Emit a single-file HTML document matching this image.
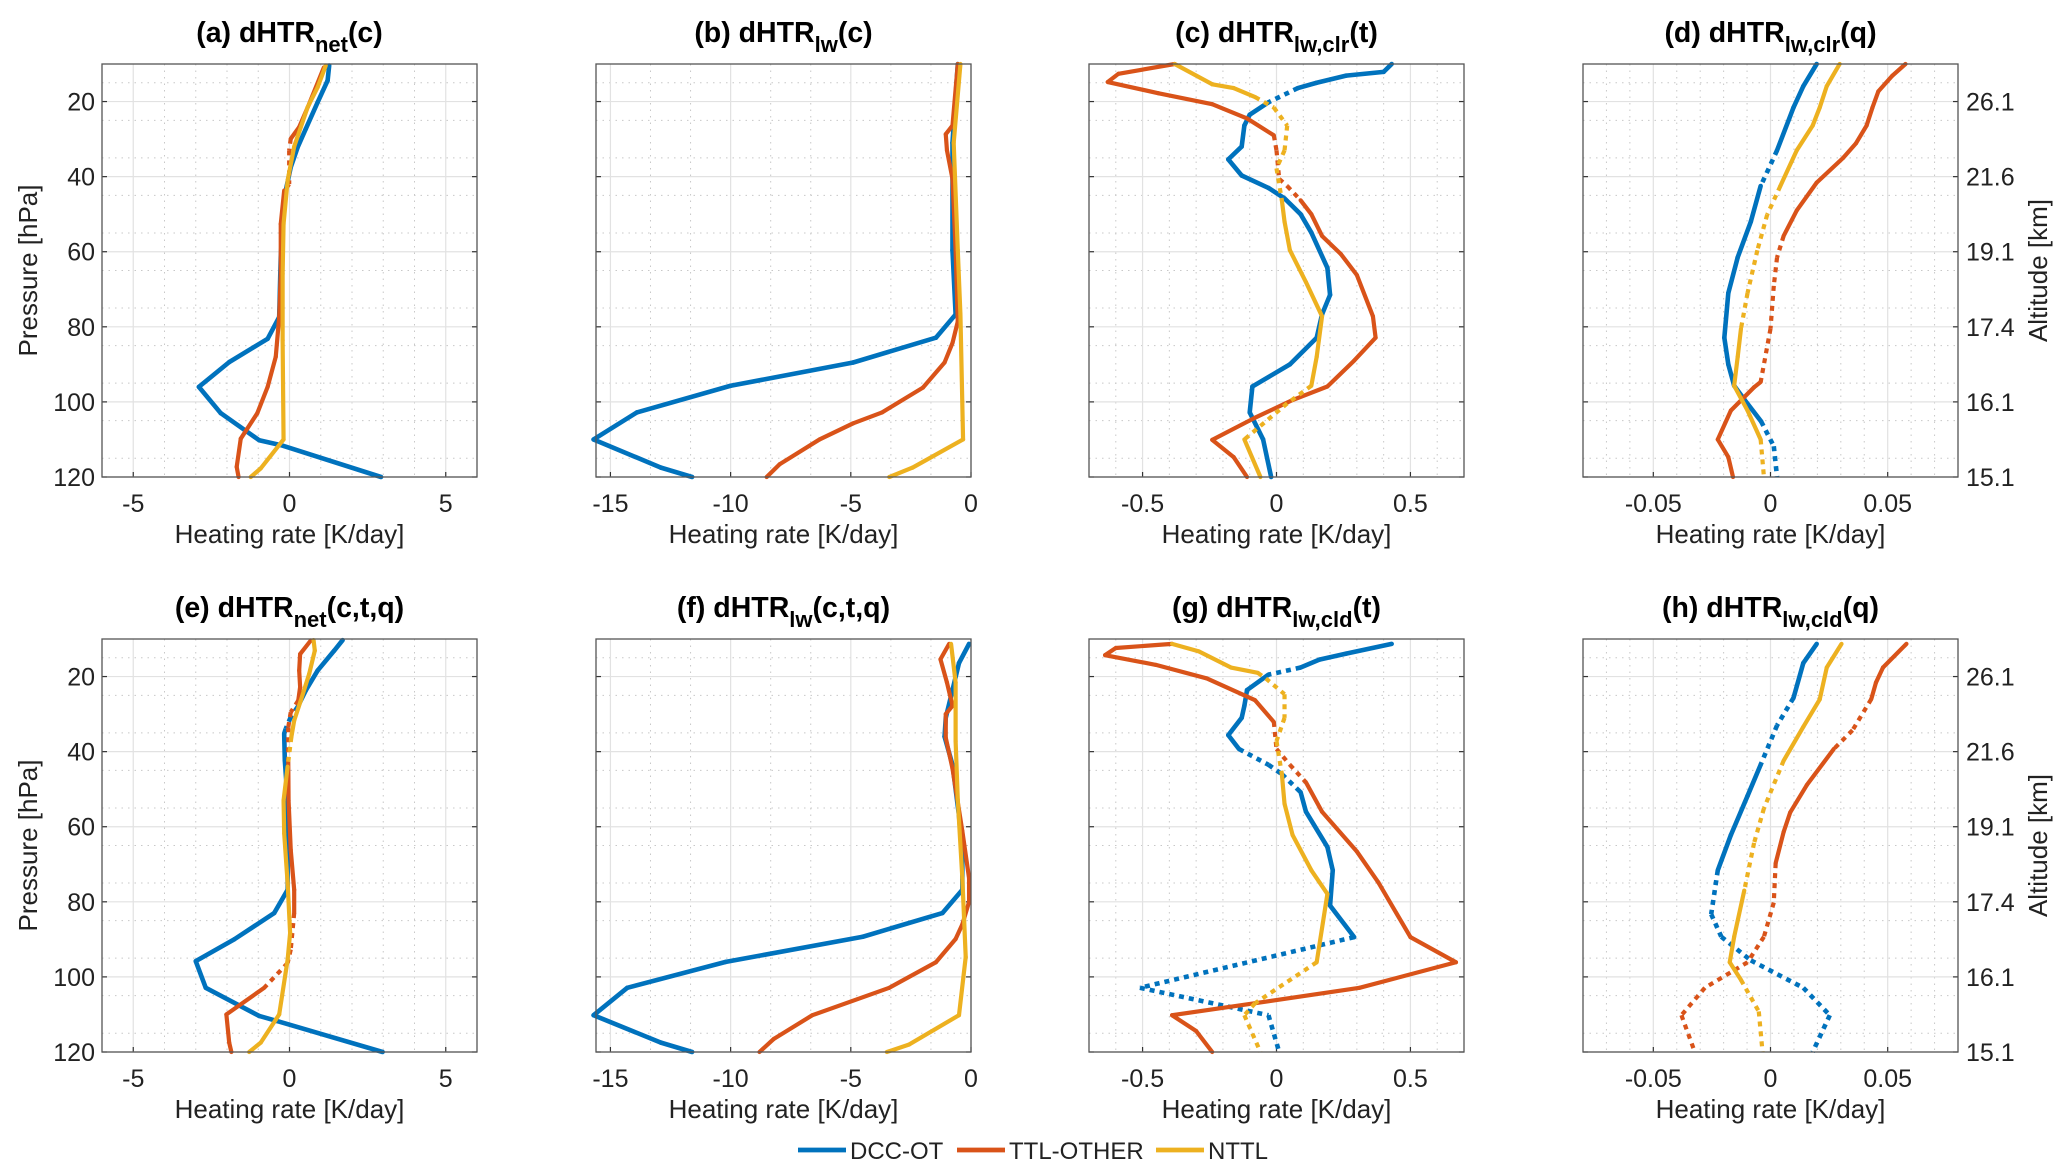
<!DOCTYPE html>
<html><head><meta charset="utf-8"><style>
html,body{margin:0;padding:0;background:#fff;}
svg{display:block;font-family:"Liberation Sans",Arial,sans-serif;}
</style></head><body>
<svg id="fig" width="2067" height="1176" viewBox="0 0 2067 1176" xmlns="http://www.w3.org/2000/svg"></svg>
<script>
// ---------- data ----------
const pressureTicks=[20,40,60,80,100,120];
const altitudeTickLabels=["26.1","21.6","19.1","17.4","16.1","15.1"];
const seriesNames=["DCC-OT","TTL-OTHER","NTTL"];
const a_blue_p=[10.4,14.4,20.2,27.3,32.2,37.5,43.7,52.6,61.4,77.4,83.2,89.4,96,103,110.2,111.5,120];
const a_blue_v=[1.27,1.22,0.9,0.52,0.26,0.04,-0.12,-0.22,-0.28,-0.33,-0.7,-1.93,-2.9,-2.2,-0.97,-0.28,2.93];
const a_blue_s="ssssssssssssssss";
const a_orng_p=[10.9,20.6,26.8,29.9,33,42,43.7,52.6,65.9,77.4,88,96,103,109.8,117.3,120];
const a_orng_v=[1.1,0.63,0.31,0.04,-0.01,-0.01,-0.17,-0.28,-0.28,-0.33,-0.44,-0.7,-1.03,-1.56,-1.69,-1.63];
const a_orng_s="sssdddssssssssss";
const a_yell_p=[10.4,16.2,21.5,32,41,52.6,65.9,83.6,110,117.7,120];
const a_yell_v=[1.16,0.9,0.58,0.15,-0.06,-0.19,-0.22,-0.22,-0.19,-0.92,-1.24];
const a_yell_s="ssssssssss";

const b_blue_p=[10,31,59.6,76.7,82.9,89.5,95.7,102.8,110,117.5,120];
const b_blue_v=[-0.55,-0.77,-0.77,-0.64,-1.46,-4.9,-10.0,-13.9,-15.7,-12.9,-11.6];
const b_blue_s="ssssssssss";
const b_orng_p=[10,26.4,28.7,33,40.6,59.6,78.6,84.3,89.5,96.2,102.8,105.7,110,116.6,120];
const b_orng_v=[-0.55,-0.77,-1.05,-1.0,-0.77,-0.64,-0.55,-0.77,-1.1,-2.0,-3.7,-4.9,-6.3,-7.96,-8.5];
const b_orng_s="ssssssssssssss";
const b_yell_p=[10,31,59.6,76.7,110,117.5,120];
const b_yell_v=[-0.44,-0.72,-0.55,-0.44,-0.33,-2.43,-3.4];
const b_yell_s="ssssss";

const c_blue_p=[10,12.1,13.1,15,16.4,20.2,23.5,26.4,32,35.4,39.7,43,45.8,50,54.9,64.3,71.5,76.7,82.9,90,95.9,102.8,110,120];
const c_blue_v=[0.43,0.4,0.26,0.15,0.08,-0.03,-0.1,-0.12,-0.13,-0.18,-0.13,-0.03,0.03,0.09,0.13,0.19,0.2,0.17,0.15,0.05,-0.09,-0.1,-0.05,-0.02];
const c_blue_s="ssssdssssssssssssssssss";
const c_orng_p=[10,12.6,14.8,17.8,20.7,24.5,29,33,40.6,42.5,46.3,50,55.8,60.6,66.2,77.2,82.9,89,95.9,99.5,104.2,110.1,114.7,120];
const c_orng_v=[-0.38,-0.59,-0.63,-0.44,-0.24,-0.11,-0.01,0.0,0.01,0.04,0.09,0.13,0.17,0.24,0.3,0.36,0.37,0.29,0.19,0.06,-0.08,-0.24,-0.16,-0.11];
const c_orng_s="ssssssddddsssssssssssss";
const c_yell_p=[10,15.4,16.4,18.8,21.6,26.4,33,37.8,46.3,52,59.6,68.1,77.2,88,95.7,100.4,110,120];
const c_yell_v=[-0.38,-0.24,-0.16,-0.08,-0.01,0.04,0.03,0.0,0.02,0.03,0.05,0.11,0.17,0.15,0.13,0.04,-0.12,-0.06];
const c_yell_s="sssdddddssssssdds";

const d_blue_p=[10,15.9,21.6,33,42.5,52,61.5,71,82.9,90,95.7,99.5,105.2,111.8,120];
const d_blue_v=[0.0197,0.014,0.0098,0.0028,-0.0042,-0.0084,-0.014,-0.018,-0.0197,-0.018,-0.0155,-0.011,-0.004,0.0014,0.0028];
const d_blue_s="sssdssssssssddd";
const d_orng_p=[10,13.1,17.3,21.6,26.4,31.1,35,41.6,49,55.8,61.5,69.1,80.5,94.7,96.1,102.3,110,114.7,120];
const d_orng_v=[0.0576,0.052,0.046,0.0435,0.041,0.0365,0.031,0.0197,0.0112,0.0056,0.0028,0.0014,0,-0.0042,-0.007,-0.0169,-0.0225,-0.018,-0.016];
const d_orng_s="sssssssssddddssssss";
const d_yell_p=[10,15.9,21.6,26.4,33,42.5,50.1,59.6,71,80.5,88,95.7,102.3,110,120];
const d_yell_v=[0.0295,0.024,0.021,0.018,0.0112,0.0042,-0.0014,-0.0056,-0.0098,-0.0126,-0.014,-0.0155,-0.0098,-0.0042,-0.0028];
const d_yell_s="sssssddddssssd";

const e_blue_p=[10.3,13.1,18.4,23.7,28.1,30.8,33.9,35.2,42.3,53,76.8,83,90,95.8,102.9,110.4,111.8,120];
const e_blue_v=[1.7,1.43,0.9,0.52,0.26,0.04,-0.12,-0.17,-0.15,-0.06,-0.06,-0.49,-1.77,-3.0,-2.68,-0.97,-0.38,2.98];
const e_blue_s="ssssdddssssssssss";
const e_orng_p=[10.4,14,18.4,22.8,26.4,29.5,33.5,42.3,53,66.2,76.8,83,92.7,96.3,102.9,110,117.5,120];
const e_orng_v=[0.68,0.34,0.31,0.34,0.28,0.04,-0.04,-0.04,-0.03,0.04,0.15,0.15,0.04,-0.06,-0.81,-2.02,-1.93,-1.86];
const e_orng_s="ssssdddssssdddssss";
const e_yell_p=[10.3,13.1,19.3,26.4,31.7,36.1,44,53,61.8,75,88.3,95.4,110,117.5,120];
const e_yell_v=[0.77,0.81,0.63,0.36,0.15,0.06,-0.06,-0.19,-0.17,-0.06,0.02,-0.06,-0.33,-0.92,-1.29];
const e_yell_s="sssssdssssssss";

const f_blue_p=[11.3,16.4,23.6,31,36,43.5,57,68.5,76.8,83,89.3,96,102.9,110.2,117.5,120];
const f_blue_v=[-0.08,-0.5,-0.77,-1.05,-1.1,-0.77,-0.5,-0.36,-0.36,-1.19,-4.5,-10.2,-14.3,-15.7,-12.9,-11.6];
const f_blue_s="sssssssssssssss";
const f_orng_p=[11.3,15.4,21.6,27.8,30,36.3,44.5,61.2,73.7,80,86,89.9,96.1,102.9,110.2,116.5,120];
const f_orng_v=[-0.91,-1.27,-1.0,-0.77,-1.05,-1.05,-0.77,-0.36,-0.08,-0.08,-0.36,-0.64,-1.46,-3.4,-6.6,-8.2,-8.8];
const f_orng_s="ssssssssssssssss";
const f_yell_p=[11.3,21.6,37.2,52.8,73.7,94.7,110.2,118,120];
const f_yell_v=[-0.83,-0.64,-0.64,-0.55,-0.36,-0.22,-0.5,-2.57,-3.5];
const f_yell_s="ssssssss";

const g_blue_p=[11.3,13.9,15.5,17.6,19.5,23.6,27.8,31,35.6,39.3,43.5,46,50.8,56,65.4,71.6,81,89.4,102.9,110.2,120];
const g_blue_v=[0.43,0.26,0.16,0.09,-0.03,-0.11,-0.12,-0.13,-0.18,-0.14,-0.03,0.02,0.09,0.11,0.19,0.21,0.2,0.29,-0.51,-0.03,0.01];
const g_blue_s="sssdsssssdddsssssdddd";
const g_orng_p=[11.3,12.4,14.3,16.9,20.5,26.3,32.1,39.3,43.5,48.2,56,66.6,74.8,89.4,96.1,102.9,107,110.2,114.4,120];
const g_orng_v=[-0.39,-0.6,-0.64,-0.45,-0.26,-0.08,-0.01,0,0.05,0.11,0.17,0.3,0.38,0.5,0.67,0.31,-0.08,-0.39,-0.3,-0.24];
const g_orng_s="ssssssdddssssssssssdd";
const g_yell_p=[11.3,13.3,17.6,19,20.5,24.7,31,37.2,46,53.9,62.2,71.6,77.9,96.1,107,110.2,120];
const g_yell_v=[-0.39,-0.29,-0.17,-0.07,-0.04,0.03,0.03,0,0.02,0.03,0.06,0.13,0.19,0.15,-0.08,-0.12,-0.06];
const g_yell_s="sssdddddsssssdddd";

const h_blue_p=[11.3,16.4,25.7,33,43.5,51.8,62.2,71.6,83.3,89.3,95.6,102.9,110.2,120];
const h_blue_v=[0.0197,0.014,0.0098,0.0028,-0.0042,-0.0098,-0.0169,-0.0225,-0.0253,-0.021,-0.0084,0.014,0.0253,0.018];
const h_blue_s="ssddsssddddddd";
const h_orng_p=[11.3,17.6,21.6,26,34.3,39.3,48.9,56.2,61.4,69.7,80.2,89.3,96.1,102.9,110.2,120];
const h_orng_v=[0.058,0.048,0.045,0.043,0.035,0.027,0.0155,0.0084,0.0056,0.0022,0.0014,-0.0028,-0.0098,-0.028,-0.038,-0.0323];
const h_orng_s="sssddssssddddddd";
const h_yell_p=[11.3,17.6,26.1,33.4,42.4,55.1,64.3,77,89.3,96.1,100.8,109.2,120];
const h_yell_v=[0.0303,0.024,0.021,0.014,0.0056,-0.0028,-0.007,-0.0112,-0.0155,-0.0174,-0.0126,-0.005,-0.0034];
const h_yell_s="ssssdddsssddd";

const xTicks_net=[-5,0,5];
const xTicks_lw=[-15,-10,-5,0];
const xTicks_t=[-0.5,0,0.5];
const xTicks_q=[-0.05,0,0.05];

// ---------- layout ----------
const NS="http://www.w3.org/2000/svg";
const svg=document.getElementById('fig');
const COLORS=["#0072BD","#D95319","#EDB120"];
const colX=[102,596,1089,1583], W=375;
const rowY=[64,639], H=413;
function mk(tag,attrs,parent){const e=document.createElementNS(NS,tag);for(const k in attrs)e.setAttribute(k,attrs[k]);(parent||svg).appendChild(e);return e;}

const panels=[
 {id:"a",col:0,row:0,xr:[-6,6],ticks:xTicks_net,minor:1,t1:"(a) dHTR",sub:"net",t2:"(c)",ser:[[a_blue_p,a_blue_v,a_blue_s],[a_orng_p,a_orng_v,a_orng_s],[a_yell_p,a_yell_v,a_yell_s]]},
 {id:"b",col:1,row:0,xr:[-15.6,0],ticks:xTicks_lw,minor:5/3,t1:"(b) dHTR",sub:"lw",t2:"(c)",ser:[[b_blue_p,b_blue_v,b_blue_s],[b_orng_p,b_orng_v,b_orng_s],[b_yell_p,b_yell_v,b_yell_s]]},
 {id:"c",col:2,row:0,xr:[-0.7,0.7],ticks:xTicks_t,minor:0.1,t1:"(c) dHTR",sub:"lw,clr",t2:"(t)",ser:[[c_blue_p,c_blue_v,c_blue_s],[c_orng_p,c_orng_v,c_orng_s],[c_yell_p,c_yell_v,c_yell_s]]},
 {id:"d",col:3,row:0,xr:[-0.08,0.08],ticks:xTicks_q,minor:0.01,t1:"(d) dHTR",sub:"lw,clr",t2:"(q)",ser:[[d_blue_p,d_blue_v,d_blue_s],[d_orng_p,d_orng_v,d_orng_s],[d_yell_p,d_yell_v,d_yell_s]]},
 {id:"e",col:0,row:1,xr:[-6,6],ticks:xTicks_net,minor:1,t1:"(e) dHTR",sub:"net",t2:"(c,t,q)",ser:[[e_blue_p,e_blue_v,e_blue_s],[e_orng_p,e_orng_v,e_orng_s],[e_yell_p,e_yell_v,e_yell_s]]},
 {id:"f",col:1,row:1,xr:[-15.6,0],ticks:xTicks_lw,minor:5/3,t1:"(f) dHTR",sub:"lw",t2:"(c,t,q)",ser:[[f_blue_p,f_blue_v,f_blue_s],[f_orng_p,f_orng_v,f_orng_s],[f_yell_p,f_yell_v,f_yell_s]]},
 {id:"g",col:2,row:1,xr:[-0.7,0.7],ticks:xTicks_t,minor:0.1,t1:"(g) dHTR",sub:"lw,cld",t2:"(t)",ser:[[g_blue_p,g_blue_v,g_blue_s],[g_orng_p,g_orng_v,g_orng_s],[g_yell_p,g_yell_v,g_yell_s]]},
 {id:"h",col:3,row:1,xr:[-0.08,0.08],ticks:xTicks_q,minor:0.01,t1:"(h) dHTR",sub:"lw,cld",t2:"(q)",ser:[[h_blue_p,h_blue_v,h_blue_s],[h_orng_p,h_orng_v,h_orng_s],[h_yell_p,h_yell_v,h_yell_s]]}
];
function fmt(v){return String(v);}
panels.forEach(P=>{
  const x0=colX[P.col], y0=rowY[P.row];
  const sx=v=>x0+(v-P.xr[0])/(P.xr[1]-P.xr[0])*W;
  const sy=p=>y0+(p-10)/110*H;
  const g=mk('g',{});
  
  
  mk('rect',{x:x0,y:y0,width:W,height:H,fill:'#fff'},g);
  const n0=Math.ceil(P.xr[0]/P.minor-1e-6), n1=Math.floor(P.xr[1]/P.minor+1e-6);
  for(let k=n0;k<=n1;k++){const v=k*P.minor; if(P.ticks.some(t=>Math.abs(t-v)<1e-9))continue;
    const l=mk('line',{x1:sx(v),x2:sx(v),y1:y0,y2:y0+H,stroke:'#c8c8c8','stroke-width':1,'stroke-dasharray':'1.5 5'},g);
    }
  for(let p=15;p<120;p+=10){const l=mk('line',{x1:x0,x2:x0+W,y1:sy(p),y2:sy(p),stroke:'#c8c8c8','stroke-width':1,'stroke-dasharray':'1.5 5'},g);
    }
  P.ticks.forEach(t=>{const l=mk('line',{x1:sx(t),x2:sx(t),y1:y0,y2:y0+H,stroke:'#e2e2e2','stroke-width':1.2},g);
    
    mk('line',{x1:sx(t),x2:sx(t),y1:y0+H,y2:y0+H-5,stroke:'#333','stroke-width':1.2},g);
    const tx=mk('text',{x:sx(t),y:y0+H+35,'text-anchor':'middle','font-size':25,fill:'#222'},g);
    tx.textContent=fmt(t);
    });
  pressureTicks.forEach((p,i)=>{const l=mk('line',{x1:x0,x2:x0+W,y1:sy(p),y2:sy(p),stroke:'#e2e2e2','stroke-width':1.2},g);
    
    mk('line',{x1:x0,x2:x0+5,y1:sy(p),y2:sy(p),stroke:'#333','stroke-width':1.2},g);
    mk('line',{x1:x0+W,x2:x0+W-5,y1:sy(p),y2:sy(p),stroke:'#333','stroke-width':1.2},g);
    if(P.col===0){const t=mk('text',{x:x0-7,y:sy(p)+9,'text-anchor':'end','font-size':25,fill:'#222'},g);t.textContent=p;
      }
    if(P.col===3){const t=mk('text',{x:x0+W+8,y:sy(p)+9,'text-anchor':'start','font-size':25,fill:'#222'},g);t.textContent=altitudeTickLabels[i];
      }
  });
  P.ser.forEach((S,si)=>{
    const [pp,vv,ss]=S;
    for(let i=0;i<pp.length-1;i++){
      const dotted=ss[i]==='d';
      const l=mk('line',{x1:sx(vv[i]),y1:sy(pp[i]),x2:sx(vv[i+1]),y2:sy(pp[i+1]),stroke:COLORS[si],'stroke-width':si===0?4.6:4.2,'stroke-linecap':dotted?'butt':'round'},g);
      if(dotted)l.setAttribute('stroke-dasharray','5 5');
      
      
    }
  });
  const box=mk('rect',{x:x0,y:y0,width:W,height:H,fill:'none',stroke:'#555','stroke-width':1.3},g);
  
  const ty=P.row===0?42:617;
  const tt=mk('text',{x:x0+W/2,y:ty,'text-anchor':'middle','font-size':28.5,'font-weight':'bold',fill:'#000'},g);
  
  const s1=mk('tspan',{},tt);s1.textContent=P.t1;
  const s2=mk('tspan',{dy:10,'font-size':22},tt);s2.textContent=P.sub;
  const s3=mk('tspan',{dy:-10},tt);s3.textContent=P.t2;
  const xl=mk('text',{x:x0+W/2,y:y0+H+66,'text-anchor':'middle','font-size':26,fill:'#222'},g);
  xl.textContent="Heating rate [K/day]";
  
  if(P.col===0){const yl=mk('text',{x:0,y:0,'text-anchor':'middle','font-size':26,fill:'#222',transform:`translate(37,${y0+H/2}) rotate(-90)`},g);
    yl.textContent="Pressure [hPa]";}
  if(P.col===3){const yl=mk('text',{x:0,y:0,'text-anchor':'middle','font-size':26,fill:'#222',transform:`translate(2047,${y0+H/2}) rotate(-90)`},g);
    yl.textContent="Altitude [km]";}
});
const lg=mk('g',{});


const legX=[798,957,1156];
seriesNames.forEach((n,i)=>{
  const l=mk('line',{x1:legX[i],x2:legX[i]+48,y1:1150,y2:1150,stroke:COLORS[i],'stroke-width':4.8},lg);
  
  const t=mk('text',{x:legX[i]+52,y:1159,'font-size':24,fill:'#222'},lg);t.textContent=n;
  
});
</script>
</body></html>
